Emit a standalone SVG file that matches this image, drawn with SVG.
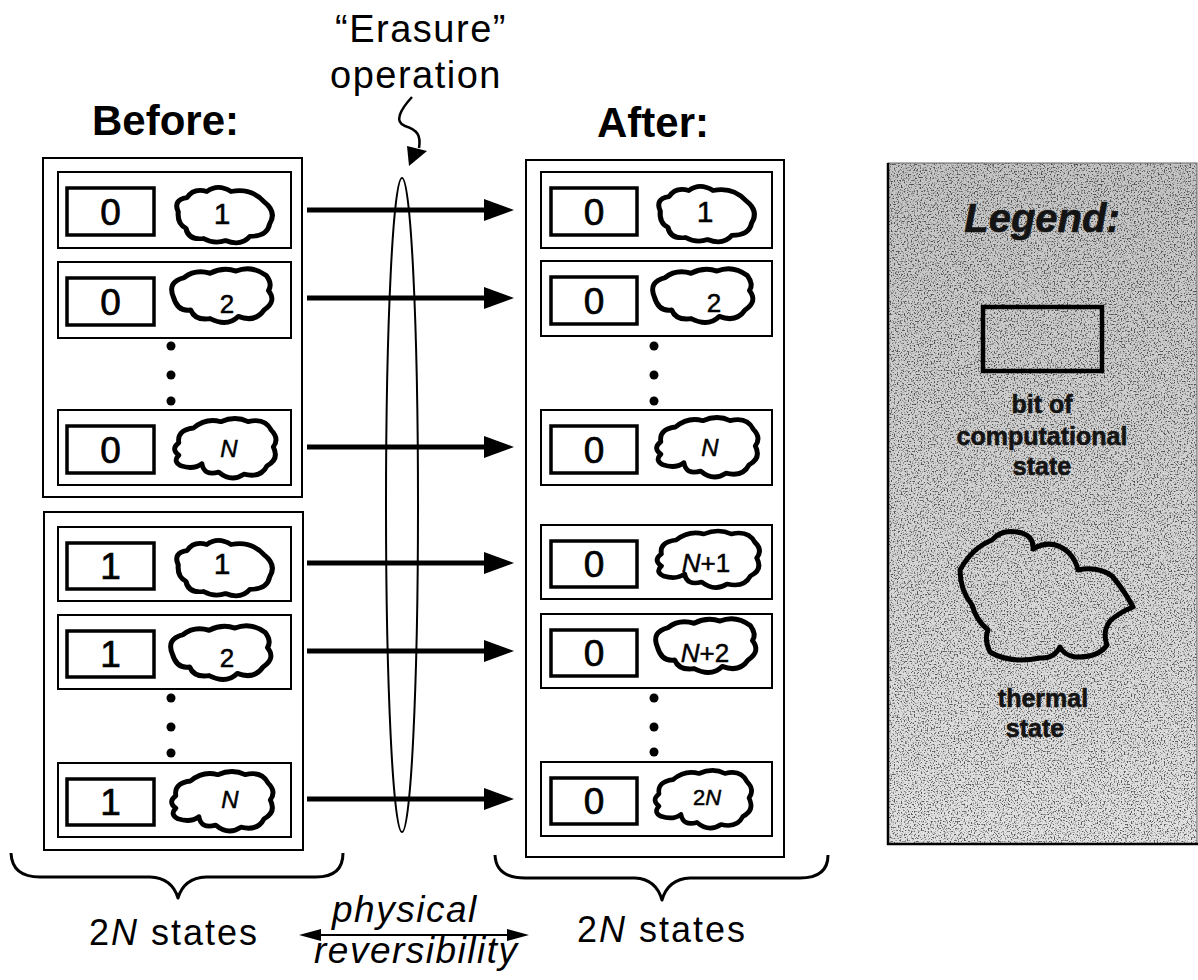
<svg xmlns="http://www.w3.org/2000/svg" xmlns:xlink="http://www.w3.org/1999/xlink" width="1198" height="980" viewBox="0 0 1198 980">
<style>
.box{fill:none;stroke:#000;stroke-width:2}
.row{fill:none;stroke:#000;stroke-width:2}
.bit{fill:none;stroke:#000;stroke-width:3.5}
.cloud{fill:none;stroke:#000;stroke-width:4.6;stroke-linejoin:round}
.bitt{font-family:"Liberation Sans",Arial,sans-serif;font-size:37px;text-anchor:middle;fill:#000;stroke:#000;stroke-width:0.7}
.cl{font-family:"Liberation Sans",Arial,sans-serif;text-anchor:middle;fill:#000;stroke:#000;stroke-width:0.5}
.it{font-style:italic}
.arr{stroke:#000;stroke-width:5;fill:none;marker-end:url(#ah)}
.dot{fill:#000}
.lbl{font-family:"Liberation Sans",Arial,sans-serif;fill:#000}
.hdr{font-family:"Liberation Sans",Arial,sans-serif;font-weight:bold;font-size:42px;fill:#000}
.leg{font-family:"Liberation Sans",Arial,sans-serif;font-weight:bold;text-anchor:middle;fill:#141414;stroke:#141414;stroke-width:0.6}
.brace{fill:none;stroke:#000;stroke-width:3;stroke-linejoin:round}
</style>
<defs>
<marker id="ah" markerUnits="userSpaceOnUse" markerWidth="30" markerHeight="22" refX="16" refY="11" orient="auto">
<path d="M0,0 L30,11 L0,22 Z" fill="#000"/>
</marker>
<marker id="sah" markerUnits="userSpaceOnUse" markerWidth="22" markerHeight="12" refX="10" refY="6" orient="auto-start-reverse">
<path d="M0,0 L22,6 L0,12 Z" fill="#000"/>
</marker>
<g id="cA"><path class="cloud" transform="translate(-2.5,7)" d="M-40,-10 q-5,-12 8,-14 q6,-10 18,-6 q10,-8 22,0 q18,-4 30,10 q12,10 5,22 q-2,12 -18,12 q-8,10 -22,4 q-10,4 -20,-2 q-14,2 -16,-10 q-8,-4 -7,-16 Z"/></g>
<g id="cB"><path class="cloud" transform="translate(3,4)" d="M-48,-4 q-6,-14 10,-18 q10,-8 24,-4 q12,-6 24,-2 q14,-6 28,4 q6,8 2,14 q8,10 -4,18 q-8,12 -24,6 q-10,10 -26,2 q-14,2 -18,-8 q-12,2 -16,-12 Z"/></g>
<g id="cC"><path class="cloud" transform="translate(0,6)" d="M-44,-12 q-2,-12 14,-14 q12,-10 26,-6 q14,-6 26,0 q16,-4 22,8 q8,8 2,16 q6,12 -6,18 q-6,12 -22,8 q-12,8 -24,-2 q-14,4 -16,-8 q-8,6 -20,2 q-8,-4 -2,-10 q-8,-6 0,-12 Z"/></g>
<linearGradient id="lg" x1="0" y1="0" x2="0" y2="1">
<stop offset="0" stop-color="#c4c4c4"/>
<stop offset="1" stop-color="#e2e2e2"/>
</linearGradient>
<filter id="grain" x="0" y="0" width="1" height="1">
<feTurbulence type="fractalNoise" baseFrequency="0.7" numOctaves="1" seed="7" result="t"/>
<feColorMatrix in="t" type="matrix" values="0 0 0 0 0  0 0 0 0 0  0 0 0 0 0  6 0 0 0 -3.1" result="d"/>
<feComposite in="d" in2="SourceGraphic" operator="in"/>
</filter>
</defs>

<g id="title-erasure">
<text class="lbl" x="421" y="42" font-size="38" letter-spacing="1.5" text-anchor="middle">“Erasure”</text>
<text class="lbl" x="416" y="88" font-size="38" letter-spacing="1.5" text-anchor="middle">operation</text>
<path d="M412,97 C400,110 394,122 405,126 C418,130 421,136 419,148" fill="none" stroke="#000" stroke-width="2.5"/>
<polygon points="407,146 427,151 409,166" fill="#000"/>
</g>

<g id="header-before"><text class="hdr" x="92" y="135">Before:</text></g>
<g id="header-after"><text class="hdr" x="597" y="137" font-size="41">After:</text></g>

<g id="before-box-1">
<rect class="box" x="43" y="158" width="259" height="339"/>
<g id="b1"><rect class="row" x="58" y="172" width="233" height="76"/><rect class="bit" x="67" y="188" width="87" height="47"/><text class="bitt" x="110.5" y="225">0</text><use href="#cA" transform="translate(225,215) scale(1.1,1.02)"/><text class="cl" x="222" y="224" font-size="30">1</text></g>
<g id="b2"><rect class="row" x="58" y="262" width="233" height="76"/><rect class="bit" x="67" y="278" width="87" height="47"/><text class="bitt" x="110.5" y="315">0</text><use href="#cB" transform="translate(222,297) scale(1.08)"/><text class="cl" x="227" y="313" font-size="26">2</text></g>
<g id="b-dots-1"><circle class="dot" cx="171" cy="346" r="4.5"/><circle class="dot" cx="171" cy="375" r="4.5"/><circle class="dot" cx="171" cy="401" r="4.5"/></g>
<g id="bN"><rect class="row" x="58" y="410" width="233" height="75"/><rect class="bit" x="67" y="426" width="87" height="47"/><text class="bitt" x="110.5" y="463">0</text><use href="#cC" transform="translate(225,449) scale(1.05)"/><text class="cl it" x="229" y="457" font-size="24">N</text></g>
</g>

<g id="before-box-2">
<rect class="box" x="44" y="512" width="259" height="338"/>
<g id="b3"><rect class="row" x="58" y="527" width="233" height="74"/><rect class="bit" x="67" y="543" width="87" height="46"/><text class="bitt" x="110.5" y="579">1</text><use href="#cA" transform="translate(225,568) scale(1.1,1.02)"/><text class="cl" x="222" y="574" font-size="30">1</text></g>
<g id="b4"><rect class="row" x="58" y="615" width="233" height="74"/><rect class="bit" x="67" y="631" width="87" height="46"/><text class="bitt" x="110.5" y="667">1</text><use href="#cB" transform="translate(221,654) scale(1.08)"/><text class="cl" x="227" y="667" font-size="26">2</text></g>
<g id="b-dots-2"><circle class="dot" cx="171" cy="698" r="4.5"/><circle class="dot" cx="171" cy="727" r="4.5"/><circle class="dot" cx="171" cy="753" r="4.5"/></g>
<g id="b5"><rect class="row" x="58" y="763" width="233" height="74"/><rect class="bit" x="67" y="779" width="87" height="46"/><text class="bitt" x="110.5" y="815">1</text><use href="#cC" transform="translate(222,802) scale(1.05)"/><text class="cl it" x="230" y="808" font-size="24">N</text></g>
</g>

<g id="after-box">
<rect class="box" x="526" y="160" width="258" height="697"/>
<g id="a1"><rect class="row" x="541" y="172" width="231" height="76"/><rect class="bit" x="551" y="188" width="86" height="47"/><text class="bitt" x="594" y="225">0</text><use href="#cA" transform="translate(707,214) scale(1.1,1.02)"/><text class="cl" x="705" y="222" font-size="30">1</text></g>
<g id="a2"><rect class="row" x="541" y="261" width="231" height="75"/><rect class="bit" x="551" y="277" width="86" height="47"/><text class="bitt" x="594" y="314">0</text><use href="#cB" transform="translate(703,297) scale(1.08)"/><text class="cl" x="714" y="312" font-size="26">2</text></g>
<g id="a-dots-1"><circle class="dot" cx="654" cy="346" r="4.5"/><circle class="dot" cx="654" cy="375" r="4.5"/><circle class="dot" cx="654" cy="401" r="4.5"/></g>
<g id="a3"><rect class="row" x="541" y="410" width="231" height="75"/><rect class="bit" x="551" y="426" width="86" height="47"/><text class="bitt" x="594" y="463">0</text><use href="#cC" transform="translate(707,448) scale(1.05)"/><text class="cl it" x="710" y="456" font-size="24">N</text></g>
<g id="a4"><rect class="row" x="541" y="525" width="231" height="74"/><rect class="bit" x="551" y="541" width="86" height="46"/><text class="bitt" x="594" y="577">0</text><use href="#cC" transform="translate(708,560) scale(1.06,1.0)"/><text class="cl" x="706" y="572" font-size="26"><tspan class="it">N</tspan>+1</text></g>
<g id="a5"><rect class="row" x="541" y="614" width="231" height="74"/><rect class="bit" x="551" y="630" width="86" height="46"/><text class="bitt" x="594" y="666">0</text><use href="#cB" transform="translate(706,647) scale(1.08)"/><text class="cl" x="705" y="662" font-size="26"><tspan class="it">N</tspan>+2</text></g>
<g id="a-dots-2"><circle class="dot" cx="654" cy="698" r="4.5"/><circle class="dot" cx="654" cy="727" r="4.5"/><circle class="dot" cx="654" cy="752" r="4.5"/></g>
<g id="a6"><rect class="row" x="541" y="762" width="231" height="74"/><rect class="bit" x="551" y="778" width="86" height="46"/><text class="bitt" x="594" y="814">0</text><use href="#cC" transform="translate(703,800) scale(1.0,1.02)"/><text class="cl" x="707" y="805" font-size="22">2<tspan class="it">N</tspan></text></g>
</g>

<g id="connectors">
<line class="arr" x1="307" y1="210" x2="500" y2="210"/>
<line class="arr" x1="307" y1="298" x2="500" y2="298"/>
<line class="arr" x1="307" y1="447" x2="500" y2="447"/>
<line class="arr" x1="307" y1="563" x2="500" y2="563"/>
<line class="arr" x1="307" y1="651" x2="500" y2="651"/>
<line class="arr" x1="307" y1="799" x2="500" y2="799"/>
<line x1="311" y1="935" x2="517" y2="935" stroke="#000" stroke-width="2" marker-start="url(#sah)" marker-end="url(#sah)"/>
</g>

<g id="erasure-ellipse">
<ellipse cx="402" cy="505" rx="16" ry="327" fill="none" stroke="#000" stroke-width="2"/>
</g>

<g id="brace-left">
<path class="brace" d="M11,853 Q12,877 40,877 L150,877 Q172,878 178,898 Q184,878 206,877 L316,877 Q343,877 343,853"/>
<text class="lbl" x="89" y="945" font-size="36" letter-spacing="2">2<tspan class="it">N</tspan> states</text>
</g>
<g id="brace-right">
<path class="brace" d="M495,855 Q496,878 525,878 L635,878 Q656,879 662,900 Q668,879 690,878 L800,878 Q828,878 828,855"/>
<text class="lbl" x="577" y="942" font-size="36" letter-spacing="2">2<tspan class="it">N</tspan> states</text>
</g>
<g id="reversibility">
<text class="lbl it" x="332" y="922" font-size="37" letter-spacing="1.5">physical</text>
<text class="lbl it" x="314" y="963" font-size="37" letter-spacing="1.5">reversibility</text>
</g>

<g id="legend">
<rect x="888" y="163" width="309" height="681" fill="url(#lg)"/>
<rect x="888" y="163" width="309" height="681" fill="#000" filter="url(#grain)" opacity="0.6"/>
<rect x="888" y="163" width="309" height="681" fill="none" stroke="#666" stroke-width="1"/>
<line x1="888" y1="163" x2="888" y2="845" stroke="#000" stroke-width="2.5"/>
<line x1="887" y1="844" x2="1198" y2="844" stroke="#000" stroke-width="2.5"/>
<text class="leg it" x="1042" y="232" font-size="40">Legend:</text>
<rect x="983" y="307" width="119" height="64" fill="none" stroke="#000" stroke-width="4.5"/>
<text class="leg" x="1042" y="413" font-size="25">bit of</text>
<text class="leg" x="1042" y="445" font-size="25">computational</text>
<text class="leg" x="1042" y="475" font-size="25">state</text>
<path d="M960,570 Q972,548 992,540 Q1002,528 1022,533 Q1034,537 1033,549 Q1052,538 1068,552 Q1076,560 1078,570 Q1098,566 1112,576 Q1124,590 1133,607 Q1120,612 1110,621 Q1102,632 1107,645 Q1098,658 1075,657 Q1064,655 1060,647 Q1054,659 1040,658 Q1010,664 990,652 Q984,640 988,630 Q976,620 972,605 Q960,590 960,570 Z" fill="none" stroke="#000" stroke-width="5" stroke-linejoin="round"/>
<text class="leg" x="1043" y="707" font-size="25">thermal</text>
<text class="leg" x="1035" y="737" font-size="25">state</text>
</g>
</svg>
